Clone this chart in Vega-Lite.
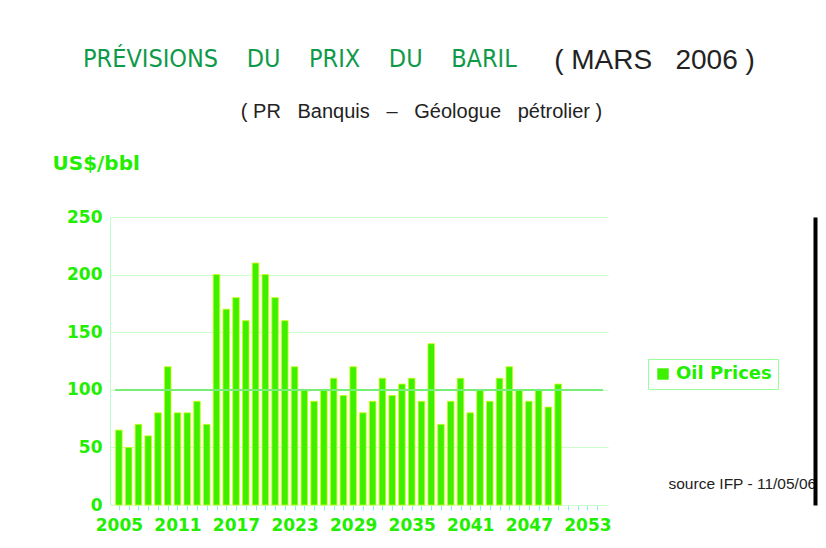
{
  "$schema": "https://vega.github.io/schema/vega-lite/v6.json",
  "width": 498,
  "height": 288,
  "autosize": {"type": "none"},
  "padding": {"left": 110, "top": 217, "right": 218, "bottom": 43},
  "background": "white",
  "title": {
    "text": "PRÉVISIONS\u00a0\u00a0\u00a0 DU\u00a0\u00a0\u00a0 PRIX\u00a0\u00a0\u00a0 DU\u00a0\u00a0\u00a0 BARIL",
    "anchor": "start",
    "frame": "group",
    "dx": -27,
    "dy": 30,
    "color": "#0f9a4a",
    "font": "Liberation Sans Narrow, DejaVu Sans Condensed, sans-serif",
    "fontSize": 25,
    "fontWeight": "normal"
  },
  "data": {
    "values": [
      {"year": 2005, "price": 65}, {"year": 2006, "price": 50}, {"year": 2007, "price": 70},
      {"year": 2008, "price": 60}, {"year": 2009, "price": 80}, {"year": 2010, "price": 120},
      {"year": 2011, "price": 80}, {"year": 2012, "price": 80}, {"year": 2013, "price": 90},
      {"year": 2014, "price": 70}, {"year": 2015, "price": 200}, {"year": 2016, "price": 170},
      {"year": 2017, "price": 180}, {"year": 2018, "price": 160}, {"year": 2019, "price": 210},
      {"year": 2020, "price": 200}, {"year": 2021, "price": 180}, {"year": 2022, "price": 160},
      {"year": 2023, "price": 120}, {"year": 2024, "price": 100}, {"year": 2025, "price": 90},
      {"year": 2026, "price": 100}, {"year": 2027, "price": 110}, {"year": 2028, "price": 95},
      {"year": 2029, "price": 120}, {"year": 2030, "price": 80}, {"year": 2031, "price": 90},
      {"year": 2032, "price": 110}, {"year": 2033, "price": 95}, {"year": 2034, "price": 105},
      {"year": 2035, "price": 110}, {"year": 2036, "price": 90}, {"year": 2037, "price": 140},
      {"year": 2038, "price": 70}, {"year": 2039, "price": 90}, {"year": 2040, "price": 110},
      {"year": 2041, "price": 80}, {"year": 2042, "price": 100}, {"year": 2043, "price": 90},
      {"year": 2044, "price": 110}, {"year": 2045, "price": 120}, {"year": 2046, "price": 100},
      {"year": 2047, "price": 90}, {"year": 2048, "price": 100}, {"year": 2049, "price": 85},
      {"year": 2050, "price": 105}
    ]
  },
  "layer": [
    {
      "mark": {"type": "bar", "size": 6.5, "stroke": "#c8ff00", "strokeWidth": 0.8},
      "encoding": {
        "x": {
          "field": "year",
          "type": "quantitative",
          "scale": {"domain": [2004.6, 2054.6], "nice": false, "zero": false},
          "axis": {
            "orient": "bottom",
            "values": [2005,2006,2007,2008,2009,2010,2011,2012,2013,2014,2015,2016,2017,2018,2019,2020,2021,2022,2023,2024,2025,2026,2027,2028,2029,2030,2031,2032,2033,2034,2035,2036,2037,2038,2039,2040,2041,2042,2043,2044,2045,2046,2047,2048,2049,2050,2051,2052,2053,2054],
            "format": "d",
            "labelExpr": "(datum.value - 2005) % 6 == 0 ? datum.label : ''",
            "labelOverlap": false,
            "labelFont": "DejaVu Sans",
            "labelFontWeight": "bold",
            "labelFontSize": 17,
            "labelColor": "#22ee00",
            "labelPadding": 7,
            "tickColor": "#88eeff",
            "tickSize": 5,
            "domainColor": "#ccffcc",
            "grid": false,
            "title": "source IFP - 11/05/06",
            "titleX": 558,
            "titleY": -22,
            "titleAlign": "left",
            "titleBaseline": "middle",
            "titleFont": "Liberation Sans",
            "titleFontWeight": "normal",
            "titleFontSize": 15.5,
            "titleColor": "#222222"
          }
        },
        "y": {
          "field": "price",
          "type": "quantitative",
          "scale": {"domain": [0, 250], "nice": false},
          "axis": {
            "orient": "left",
            "values": [0, 50, 100, 150, 200, 250],
            "labelFont": "DejaVu Sans",
            "labelFontWeight": "bold",
            "labelFontSize": 17,
            "labelColor": "#22ee00",
            "labelPadding": 8,
            "ticks": false,
            "domainColor": "#bbffcc",
            "grid": true,
            "gridColor": "#ccffcc",
            "gridWidth": 1.2,
            "title": "US$/bbl",
            "titleAngle": 0,
            "titleX": -58,
            "titleY": -54,
            "titleAlign": "left",
            "titleBaseline": "middle",
            "titleFont": "DejaVu Sans",
            "titleFontWeight": "bold",
            "titleFontSize": 20,
            "titleColor": "#22ee00"
          }
        },
        "color": {
          "datum": "Oil Prices",
          "scale": {"range": ["#3cf000"]},
          "legend": {
            "title": null,
            "orient": "none",
            "legendX": 538,
            "legendY": 142,
            "padding": 6,
            "strokeColor": "#99ff99",
            "symbolType": "square",
            "symbolSize": 130,
            "symbolStrokeWidth": 0,
            "labelFont": "DejaVu Sans",
            "labelFontWeight": "bold",
            "labelFontSize": 18,
            "labelColor": "#22ee00"
          }
        }
      }
    },
    {
      "mark": {"type": "rule", "color": "#77ee77", "strokeWidth": 1.6},
      "encoding": {
        "x": {
          "datum": 2004.6,
          "axis": {
            "orient": "top",
            "labels": false,
            "ticks": false,
            "domain": false,
            "grid": false,
            "title": "(\u00a0MARS\u00a0\u00a0 2006\u00a0)",
            "titleX": 544,
            "titleY": -157,
            "titleAlign": "center",
            "titleBaseline": "middle",
            "titleFont": "Liberation Sans",
            "titleFontWeight": "normal",
            "titleFontSize": 28,
            "titleColor": "#222222"
          }
        },
        "x2": {"datum": 2054.6},
        "y": {
          "datum": 100,
          "axis": {
            "orient": "right",
            "labels": false,
            "ticks": false,
            "grid": false,
            "offset": 207,
            "domain": true,
            "domainColor": "#000000",
            "domainWidth": 4,
            "title": "(\u00a0PR\u00a0\u00a0 Banquis\u00a0\u00a0 –\u00a0\u00a0 Géologue\u00a0\u00a0 pétrolier\u00a0)",
            "titleAngle": 0,
            "titleX": -394,
            "titleY": -106,
            "titleAlign": "center",
            "titleBaseline": "middle",
            "titleFont": "Liberation Sans",
            "titleFontWeight": "normal",
            "titleFontSize": 20,
            "titleColor": "#222222"
          }
        }
      }
    }
  ],
  "resolve": {"axis": {"x": "independent", "y": "independent"}},
  "config": {"view": {"stroke": null}}
}
